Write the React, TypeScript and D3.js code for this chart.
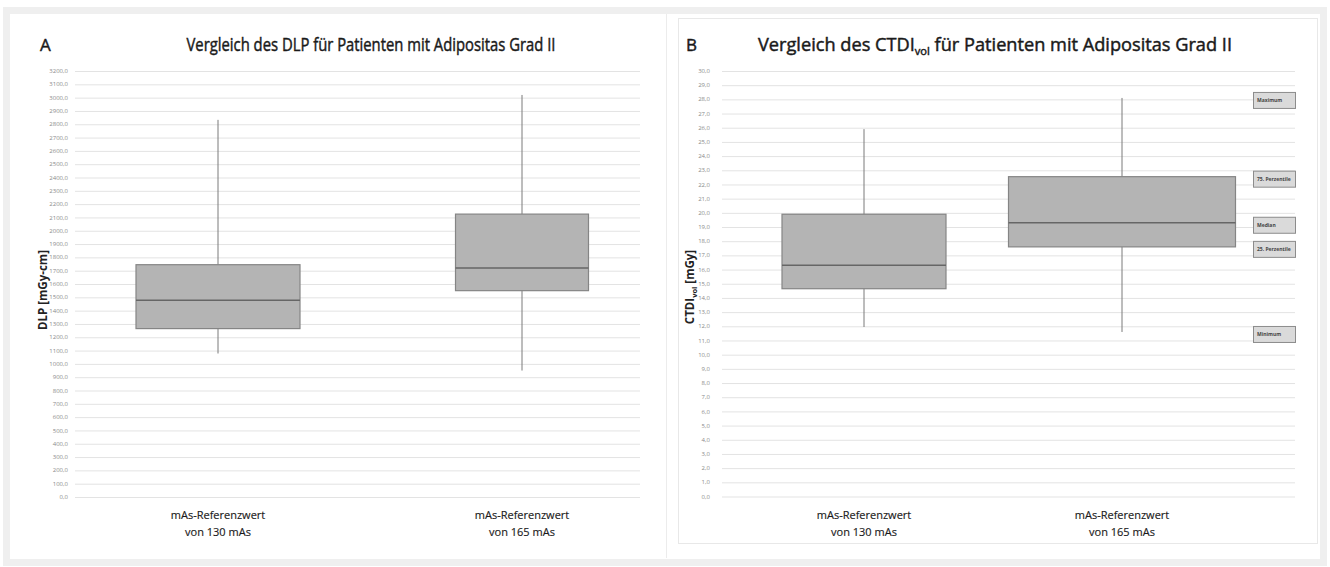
import React from "react";
import * as d3 from "d3";

const categories = ["mAs-Referenzwert|von 130 mAs", "mAs-Referenzwert|von 165 mAs"];
const dlpMin = [1078, 950];
const dlpQ1 = [1265, 1550];
const dlpMedian = [1478, 1720];
const dlpQ3 = [1745, 2125];
const dlpMax = [2833, 3020];

const ctdiMin = [11.95, 11.6];
const ctdiQ1 = [14.65, 17.6];
const ctdiMedian = [16.3, 19.3];
const ctdiQ3 = [19.9, 22.55];
const ctdiMax = [25.9, 28.1];

const dlpTicks = d3.range(0, 3201, 100);
const ctdiTicks = d3.range(0, 31, 1);
const legendLabels = ["Maximum", "75. Perzentile", "Median", "25. Perzentile", "Minimum"];

const fmt = (v: number) => v.toFixed(1).replace(".", ",");
const NARROW = "'Liberation Sans Narrow', 'Open Sans', sans-serif";

type PanelProps = {
  gridX: [number, number];
  centers: [number, number];
  boxW: number[];
  y: d3.ScaleLinear<number, number>;
  ticks: number[];
  mins: number[];
  q1: number[];
  med: number[];
  q3: number[];
  maxs: number[];
  tickRight: number;
  yTitle: React.ReactNode;
};

function Panel(p: PanelProps) {
  const x = d3.scalePoint<string>().domain(categories).range(p.centers);
  return (
    <g>
      {p.ticks.map((t) => (
        <g key={t}>
          <line x1={p.gridX[0]} x2={p.gridX[1]} y1={p.y(t) + 0.5} y2={p.y(t) + 0.5} stroke="#e3e3e3" strokeWidth={1} />
          <text x={p.tickRight} y={p.y(t)} dy="0.35em" textAnchor="end" fontSize={6} fill="#8a8a8a" fontFamily={NARROW}>
            {fmt(t)}
          </text>
        </g>
      ))}
      {categories.map((c, i) => {
        const cx = x(c)!;
        const w = p.boxW[i];
        return (
          <g key={c}>
            <line x1={cx} x2={cx} y1={p.y(p.maxs[i])} y2={p.y(p.q3[i])} stroke="#7a7a7a" strokeWidth={1} />
            <line x1={cx} x2={cx} y1={p.y(p.q1[i])} y2={p.y(p.mins[i])} stroke="#7a7a7a" strokeWidth={1} />
            <rect x={cx - w / 2} y={p.y(p.q3[i])} width={w} height={p.y(p.q1[i]) - p.y(p.q3[i])} fill="#b4b4b4" stroke="#858585" strokeWidth={1.2} />
            <line x1={cx - w / 2} x2={cx + w / 2} y1={p.y(p.med[i])} y2={p.y(p.med[i])} stroke="#666" strokeWidth={1.5} />
            {c.split("|").map((s, k) => (
              <text key={k} x={cx} y={519 + k * 17} textAnchor="middle" fontSize={11} fill="#1a1a1a" fontFamily={NARROW} stroke="#1a1a1a" strokeWidth={0.15}>
                {s}
              </text>
            ))}
          </g>
        );
      })}
      {p.yTitle}
    </g>
  );
}

export default function App() {
  const yA = d3.scaleLinear().domain([0, 3200]).range([497, 71]);
  const yB = d3.scaleLinear().domain([0, 30]).range([496.5, 71]);
  const legendVals = [ctdiMax[1], ctdiQ3[1], ctdiMedian[1], ctdiQ1[1], ctdiMin[1]];
  const titleProps = {
    fontSize: 18,
    fontFamily: NARROW,
    fill: "#1a1a1a",
    stroke: "#1a1a1a",
    strokeWidth: 0.45,
  };
  return (
    <svg width={1330} height={567} style={{ position: "absolute", left: 0, top: 0, background: "#fff" }}>
      <rect x={0} y={0} width={1330} height={567} fill="#fff" />
      <rect x={6.5} y={10.5} width={1317} height={552} fill="none" stroke="#efefef" strokeWidth={7} />
      <line x1={666.5} x2={666.5} y1={14} y2={558} stroke="#ececec" strokeWidth={1} />
      <rect x={678.5} y={18.5} width={639} height={525} fill="none" stroke="#e8e8e8" strokeWidth={1} />

      <text x={40} y={51} {...titleProps} fontSize={17}>A</text>
      <text x={371} y={51} textAnchor="middle" {...titleProps} textLength={369} lengthAdjust="spacingAndGlyphs">
        Vergleich des DLP für Patienten mit Adipositas Grad II
      </text>
      <text x={686} y={51} {...titleProps} fontSize={17}>B</text>
      <text x={995} y={51} textAnchor="middle" {...titleProps} textLength={474} lengthAdjust="spacingAndGlyphs">
        Vergleich des CTDI<tspan fontSize={11} dy={4}>vol</tspan><tspan dy={-4}> für Patienten mit Adipositas Grad II</tspan>
      </text>

      <Panel
        gridX={[75, 640]}
        centers={[218, 522]}
        boxW={[164, 133]}
        y={yA}
        ticks={dlpTicks}
        mins={dlpMin}
        q1={dlpQ1}
        med={dlpMedian}
        q3={dlpQ3}
        maxs={dlpMax}
        tickRight={68}
        yTitle={
          <text transform="translate(47,290) rotate(-90)" textAnchor="middle" fontSize={11.5} fontWeight="bold" fill="#222" fontFamily="'Open Sans', sans-serif">
            DLP [mGy-cm]
          </text>
        }
      />
      <Panel
        gridX={[722, 1295]}
        centers={[864, 1122]}
        boxW={[164, 227]}
        y={yB}
        ticks={ctdiTicks}
        mins={ctdiMin}
        q1={ctdiQ1}
        med={ctdiMedian}
        q3={ctdiQ3}
        maxs={ctdiMax}
        tickRight={710}
        yTitle={
          <text transform="translate(694,287) rotate(-90)" textAnchor="middle" fontSize={11.5} fontWeight="bold" fill="#222" fontFamily="'Open Sans', sans-serif">
            CTDI<tspan fontSize={7.5} dy={3}>vol</tspan><tspan dy={-3}> [mGy]</tspan>
          </text>
        }
      />
      {legendLabels.map((l, i) => {
        const cy = yB(legendVals[i]) + 2.5;
        return (
          <g key={l}>
            <rect x={1253.5} y={cy - 8} width={42} height={16} fill="#dadada" stroke="#8c8c8c" strokeWidth={1} />
            <text x={1257} y={cy} dy="0.35em" fontSize={5} fontWeight="bold" fill="#444" fontFamily="'Open Sans', sans-serif">{l}</text>
          </g>
        );
      })}
    </svg>
  );
}
